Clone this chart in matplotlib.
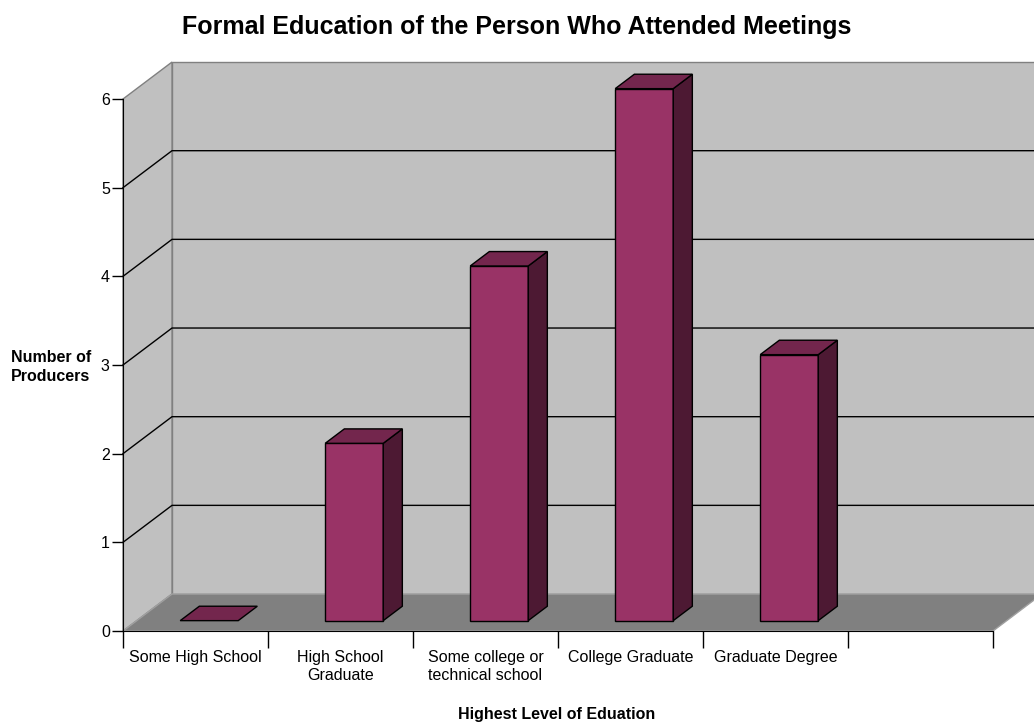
import matplotlib.pyplot as plt
from matplotlib.patches import Polygon

categories = ["Some High School", "High School\nGraduate", "Some college or\ntechnical school",
              "College Graduate", "Graduate Degree", ""]
producers = [0, 2, 4, 6, 3]
y_ticks = [0, 1, 2, 3, 4, 5, 6]

# oblique depth offset, in data units per full depth
DX = 0.338
DY = 0.417
D0, D1 = 0.28, 0.67   # depth span of the bars
BAR_W = 0.4

WALL = "#C0C0C0"
FLOOR = "#808080"
EDGE = "#808080"
FRONT = "#993366"
TOP = "#73264D"
SIDE = "#4D1933"

plt.rcParams["font.family"] = ["Liberation Sans", "DejaVu Sans"]

fig = plt.figure(figsize=(10.34, 7.25), dpi=100)
ax = fig.add_axes([123 / 1034, 94 / 725, 870 / 1034, 532 / 725])
n = len(categories)
ymax = max(y_ticks)
ax.set_xlim(0, n)
ax.set_ylim(0, ymax)
ax.patch.set_visible(False)


def proj(x, y, d):
    return (x + d * DX, y + d * DY)


def poly(pts, fc, ec, lw=1.0, z=1):
    ax.add_patch(Polygon(pts, closed=True, facecolor=fc, edgecolor=ec,
                         linewidth=lw, clip_on=False, zorder=z, joinstyle="miter"))


# walls and floor
poly([proj(0, 0, 1), proj(n, 0, 1), proj(n, ymax, 1), proj(0, ymax, 1)], WALL, EDGE)
poly([proj(0, 0, 0), proj(0, 0, 1), proj(0, ymax, 1), proj(0, ymax, 0)], WALL, EDGE)
poly([proj(0, 0, 0), proj(n, 0, 0), proj(n, 0, 1), proj(0, 0, 1)], FLOOR, "#A0A0A0")

# gridlines across side wall and back wall
for k in y_ticks[1:-1]:
    pts = [proj(0, k, 0), proj(0, k, 1), proj(n, k, 1)]
    ax.plot([p[0] for p in pts], [p[1] for p in pts], color="black", lw=1.0,
            clip_on=False, zorder=1.5)

# 3d bars
for i, v in enumerate(producers):
    x0 = i + (1 - BAR_W) / 2
    x1 = x0 + BAR_W
    if v > 0:
        poly([proj(x0, 0, D0), proj(x1, 0, D0), proj(x1, v, D0), proj(x0, v, D0)], FRONT, "black", z=3)
        poly([proj(x1, 0, D0), proj(x1, 0, D1), proj(x1, v, D1), proj(x1, v, D0)], SIDE, "black", z=3)
    poly([proj(x0, v, D0), proj(x1, v, D0), proj(x1, v, D1), proj(x0, v, D1)], TOP, "black", z=3)

# axes
for s in ["top", "right"]:
    ax.spines[s].set_visible(False)
ax.spines["left"].set_color("black")
ax.spines["bottom"].set_color("black")
ax.set_yticks(y_ticks)
ax.tick_params(axis="y", length=8, width=1, labelsize=11.5, pad=1.5)
ax.set_xticks(range(n + 1))
ax.set_xticklabels([])
ax.tick_params(axis="x", which="major", length=12, width=1)
ax.set_xticks([i + 0.5 for i in range(n)], minor=True)
ax.set_xticklabels(categories, minor=True, fontsize=11.5)
ax.tick_params(axis="x", which="minor", length=0, pad=14)

fig.text(0.5, 1 - 27 / 725, "Formal Education of the Person Who Attended Meetings",
         ha="center", va="center", fontsize=18, fontweight="bold")
fig.text(51 / 1034, 1 - 367 / 725, "Number of\nProducers", ha="center", va="center",
         fontsize=11.5, fontweight="bold", linespacing=1.3)
fig.text(557 / 1034, 1 - 714 / 725, "Highest Level of Eduation", ha="center", va="center",
         fontsize=11.5, fontweight="bold")

fig.savefig("out.png", dpi=100, facecolor="white")
